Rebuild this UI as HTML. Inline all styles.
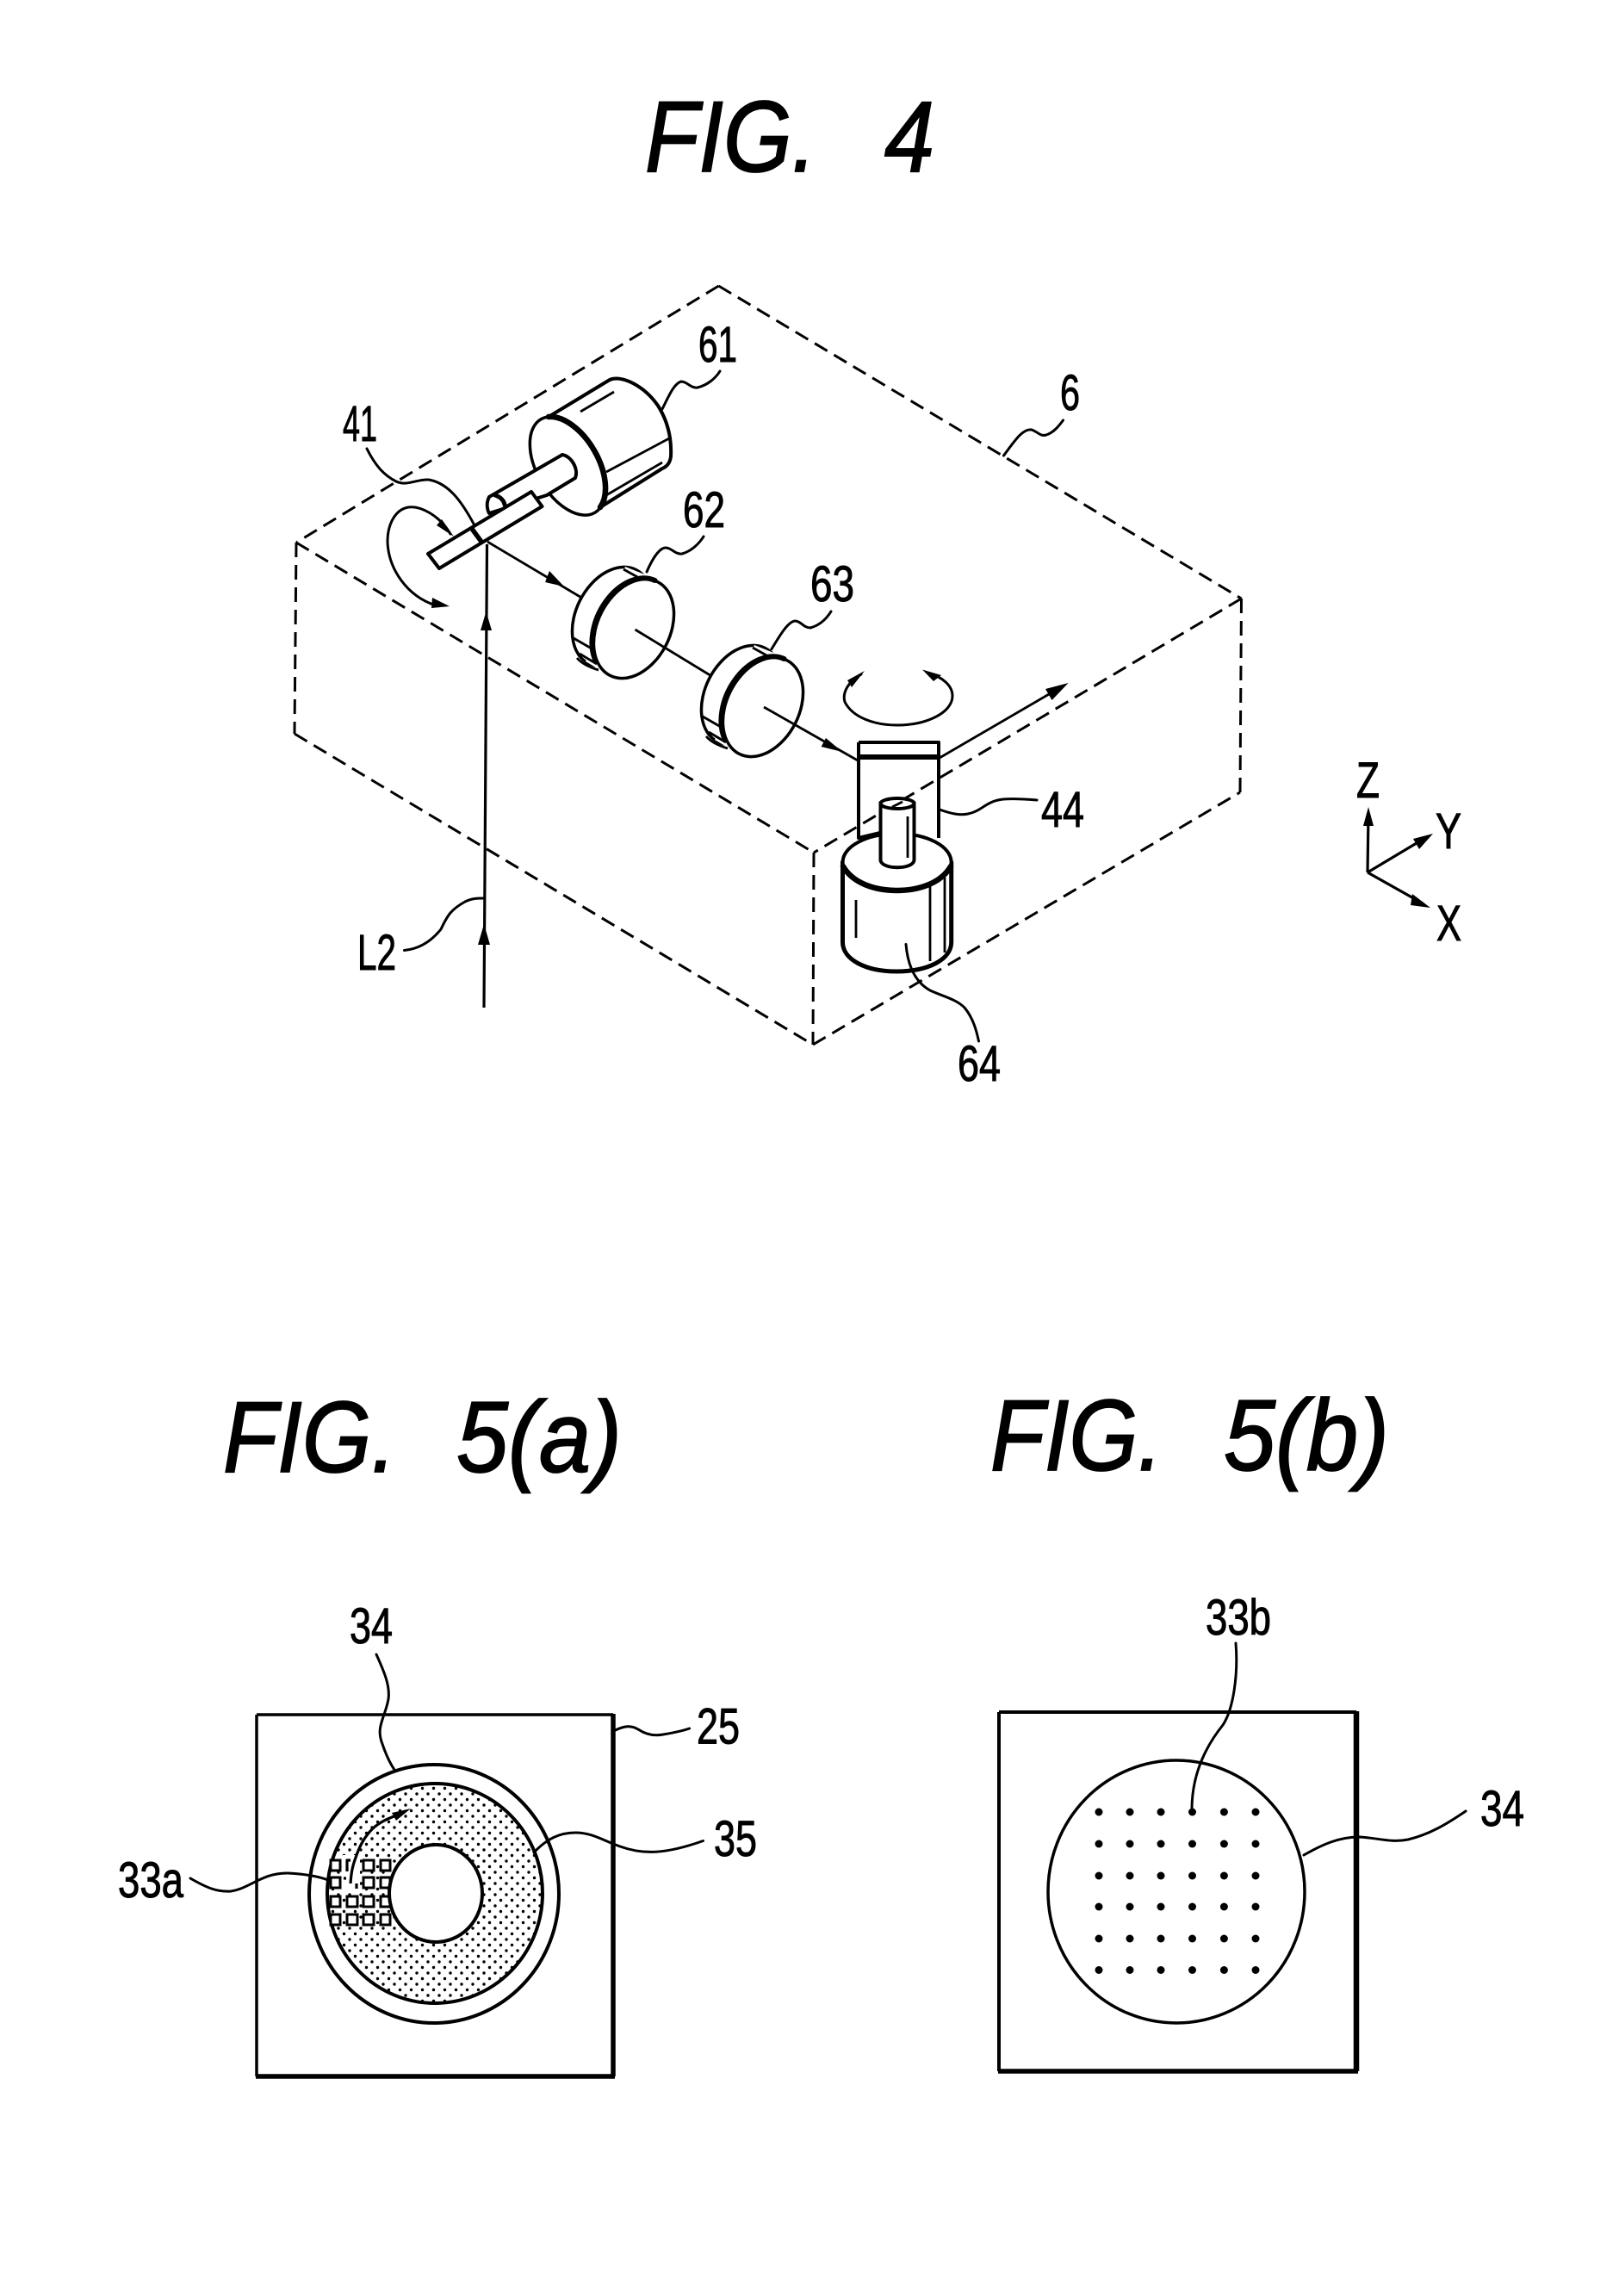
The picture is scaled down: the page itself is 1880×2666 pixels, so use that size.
<!DOCTYPE html>
<html>
<head>
<meta charset="utf-8">
<style>
html,body{margin:0;padding:0;background:#fff;}
svg{display:block;}
text{font-family:"Liberation Sans",sans-serif;fill:#000;}
.t{font-size:58px;stroke:#000;stroke-width:1;}
.h{font-size:117px;font-style:italic;stroke:#000;stroke-width:1.8;}
.l{fill:none;stroke:#000;stroke-width:3;stroke-linecap:round;stroke-linejoin:round;}
.m{fill:none;stroke:#000;stroke-width:3.2;stroke-linejoin:round;}
.w{fill:#fff;stroke:#000;stroke-width:4;stroke-linejoin:round;}
.k{fill:none;stroke:#000;stroke-width:6.5;stroke-linecap:round;}
.d{fill:none;stroke:#000;stroke-width:3;stroke-dasharray:17 9;}
</style>
</head>
<body>
<svg width="1880" height="2666" viewBox="0 0 1880 2666" xmlns="http://www.w3.org/2000/svg">
<defs>
<pattern id="st" width="13" height="13" patternUnits="userSpaceOnUse">
<circle cx="3" cy="3" r="1.7" fill="#000"/>
<circle cx="9.5" cy="9.5" r="1.7" fill="#000"/>
</pattern>
</defs>
<rect width="1880" height="2666" fill="#fff"/>

<!-- Titles -->
<text class="h" x="749" y="199" textLength="199" lengthAdjust="spacingAndGlyphs">FIG.</text>
<text class="h" x="1027" y="199" textLength="58" lengthAdjust="spacingAndGlyphs">4</text>
<text class="h" x="259" y="1709" textLength="201" lengthAdjust="spacingAndGlyphs">FIG.</text>
<text class="h" x="530" y="1709" textLength="192" lengthAdjust="spacingAndGlyphs">5(a)</text>
<text class="h" x="1150" y="1707" textLength="200" lengthAdjust="spacingAndGlyphs">FIG.</text>
<text class="h" x="1421" y="1707" textLength="192" lengthAdjust="spacingAndGlyphs">5(b)</text>

<!-- Dashed box -->
<path class="d" d="M834.5 332 L344 630"/>
<path class="d" d="M834.5 332 L1441.5 695"/>
<path class="d" d="M344 630 L945 990"/>
<path class="d" d="M1441.5 695 L945 990"/>
<path class="d" d="M344 630 L342 852"/>
<path class="d" d="M342 852 L944 1213"/>
<path class="d" d="M944 1213 L1440 920"/>
<path class="d" d="M1440 920 L1441.5 695"/>
<path class="d" d="M945 990 L944 1213"/>

<!-- Leader 6 -->
<path class="l" d="M1165.5 529 C1178 512 1188 497 1198 499 C1206 502 1208 507 1215 505 C1224 502 1230 494 1234.5 488"/>
<text class="t" x="1231" y="476" textLength="23" lengthAdjust="spacingAndGlyphs">6</text>

<!-- Motor 61 -->
<path class="w" d="M637 484 L708 441 C722 435 748 448 764 471 C776 490 780 510 779 530 C778 538 774 542 769 544 L697 589 Z"/>
<ellipse class="w" cx="659.5" cy="541" rx="36" ry="62.6" transform="rotate(-30 659.5 541)" style="stroke-width:3.5"/>
<path class="k" d="M637 484 A36 62.6 -30 0 1 697 589"/>
<path class="m" d="M674 478 L713 455 M704 548 L779 508 M704 575 L769 537" style="stroke-width:2.8"/>
<!-- shaft -->
<path class="w" d="M568 577 L653 528 C664 530 672 545 668 555 L635 575 L568 596 C565 590 565 583 568 577 Z"/>
<path class="k" style="stroke-width:5" d="M575 575 C581 577 585 581 586 586"/>
<!-- mirror 41 -->
<path class="w" d="M497 643 L617 571 L629.5 588 L510 660 Z"/>
<path class="k" style="stroke-width:5.5" d="M548 614 L559 629"/>
<path class="l" d="M426 521 C436 541 446 552 460 559 C473 565 484 556 498 557 C520 561 535 580 551 610"/>
<text class="t" x="398" y="512" textLength="40" lengthAdjust="spacingAndGlyphs">41</text>
<path class="l" d="M769 475 C777 459 783 445 791 443 C798 443 802 451 810 450 C822 447 831 439 836 431"/>
<text class="t" x="811" y="420" textLength="45" lengthAdjust="spacingAndGlyphs">61</text>

<!-- rotation arrow at 41 -->
<path class="l" d="M523 620 C510 598 488 587 474 589 C458 592 450 610 450 629 C451 660 472 692 506 703"/>
<polygon points="527,623 513,603 507,610" fill="#000"/>
<polygon points="522,704 502,694 501,706" fill="#000"/>

<!-- Beam -->
<path class="m" d="M562 1170 L565.5 632"/>
<polygon points="564.5,710 558,732 571,732" fill="#000"/>
<polygon points="562,1073 555,1097 569,1097" fill="#000"/>
<path class="m" style="stroke-width:2.8" d="M566 629 L677 695"/>
<polygon points="655,681 638,663 633,676" fill="#000"/>

<!-- Lens 62 -->
<g id="lens">
<ellipse class="w" cx="711" cy="716" rx="42" ry="61" transform="rotate(27 711 716)" style="stroke-width:3.5"/>
<path d="M726 658 L751 668 L697 778 L680 768 Z" fill="#fff"/>
<ellipse class="w" cx="736" cy="730" rx="42" ry="61" transform="rotate(27 736 730)" style="stroke-width:3.5"/>
<path class="k" style="stroke-width:6" d="M692 768 A42 61 27 0 1 760.5 674"/>
<path class="m" style="stroke-width:2.8" d="M724 661 L742 671 M666 741 L688 753.6 M673 759 L693 771 M670 764 C675 770 685 775 695 778"/>
</g>
<use href="#lens" transform="translate(150 91)"/>
<path class="m" style="stroke-width:2.8" d="M737.5 731 L824.5 784"/>
<path class="m" style="stroke-width:2.8" d="M887 821 L996 883"/>
<polygon points="978,873 959,857 953.6,867" fill="#000"/>

<path class="l" d="M751 664 C758 648 766 636 773 636 C780 636 784 644 792 643 C803 640 812 631 817 623"/>
<text class="t" x="793" y="612" textLength="49" lengthAdjust="spacingAndGlyphs">62</text>
<path class="l" d="M896 753.6 C906 737 915 722 923 721 C930 721 933 729 941 729 C952 726 960 718 965 710"/>
<text class="t" x="941" y="698" textLength="51" lengthAdjust="spacingAndGlyphs">63</text>

<!-- Rotation arrows at 44 -->
<path class="l" d="M1000 783 C984 792 978 805 981 815 C990 833 1015 842 1042 842 C1075 842 1106 828 1106 808 C1106 796 1094 786 1079 782"/>
<polygon points="1004,779 984,790 989,798" fill="#000"/>
<polygon points="1071,777.5 1093,784 1084,791" fill="#000"/>

<!-- Mirror 44 -->
<path class="m" style="stroke-width:4" d="M997 862 L1090 862 L1090 973 M997 862 L997 973 L1030 965"/>
<path class="k" style="stroke-width:6;stroke-linecap:butt" d="M996 879 L1091 879"/>
<path class="m" style="stroke-width:2.8" d="M1091 880 L1225 802"/>
<polygon points="1240.6,793 1214,800 1221.5,813" fill="#000"/>
<path class="l" d="M1091 940 C1105 945 1115 947 1124 945 C1140 942 1145 930 1165 928 C1178 927 1192 928 1204 929"/>
<text class="t" x="1209" y="960" textLength="50" lengthAdjust="spacingAndGlyphs">44</text>

<!-- Motor 64 -->
<path class="w" d="M978.5 1001 L978.5 1094 C978.5 1114 1005 1128 1041 1128 C1078 1128 1104.7 1114 1104.7 1094 L1104.7 1001 Z" style="stroke-width:5"/>
<ellipse class="w" cx="1041.6" cy="1001" rx="63" ry="33"/>
<path class="k" style="stroke-width:6.5" d="M979 1006 C990 1025 1015 1034 1041 1034 C1068 1034 1093 1025 1104 1006"/>
<path class="m" style="stroke-width:2.8" d="M1080 1029 L1080 1116 M1097 1019 L1097 1106 M994 1045 L994 1089"/>
<!-- shaft -->
<path class="w" d="M1022.5 932 L1022.5 999 C1024 1010 1060 1010 1061.5 999 L1061.5 932 Z"/>
<ellipse class="w" cx="1042" cy="933" rx="19.5" ry="6"/>
<path class="m" style="stroke-width:2.8" d="M1054 948 L1054 996 M1036 937 L1048 931"/>
<path class="l" d="M1052 1096.5 C1054 1120 1062 1140 1080 1150 C1095 1157 1110 1160 1120 1170 C1130 1182 1134 1197 1136.5 1209"/>
<text class="t" x="1112" y="1255" textLength="50" lengthAdjust="spacingAndGlyphs">64</text>

<!-- L2 -->
<path class="l" d="M469.5 1103.5 C485 1102 500 1094 512 1079 C520 1062 524 1056 540 1047 C548 1043 555 1043 561 1043"/>
<text class="t" x="415" y="1126" textLength="45" lengthAdjust="spacingAndGlyphs">L2</text>

<!-- Axes -->
<path class="m" style="stroke-width:3.2" d="M1588 1013 L1589 945 M1588 1013 L1655 973 M1588 1013 L1652 1049"/>
<polygon points="1589,937 1583,959 1595,959" fill="#000"/>
<polygon points="1664,968 1641,974 1648,986" fill="#000"/>
<polygon points="1661,1054 1640,1038 1638,1051" fill="#000"/>
<text class="t" x="1575" y="926" textLength="27" lengthAdjust="spacingAndGlyphs">Z</text>
<text class="t" x="1667" y="985" textLength="30" lengthAdjust="spacingAndGlyphs">Y</text>
<text class="t" x="1668" y="1092" textLength="29" lengthAdjust="spacingAndGlyphs">X</text>

<!-- FIG 5(a) -->
<path fill="none" stroke="#000" d="M298 1991 L712 1991" stroke-width="3.5"/>
<path fill="none" stroke="#000" d="M298 1991 L298 2411" stroke-width="3.5"/>
<path fill="none" stroke="#000" d="M712 1990 L712 2411" stroke-width="5.5"/>
<path fill="none" stroke="#000" d="M297 2411 L714 2411" stroke-width="5.5"/>
<ellipse cx="504" cy="2199" rx="145" ry="150" fill="#fff" stroke="#000" stroke-width="4"/>
<ellipse cx="505" cy="2198.5" rx="125" ry="127.5" fill="url(#st)" stroke="#000" stroke-width="4"/>
<g fill="#fff" stroke="#000" stroke-width="3">
<rect x="384" y="2160" width="11" height="12"/><rect x="422" y="2160" width="12" height="12"/><rect x="442" y="2160" width="11" height="12"/>
<rect x="384" y="2180" width="11" height="12"/><rect x="422" y="2180" width="12" height="12"/><rect x="442" y="2180" width="11" height="12"/>
<rect x="384" y="2202" width="11" height="12"/><rect x="403" y="2202" width="12" height="12"/><rect x="422" y="2202" width="12" height="12"/><rect x="442" y="2202" width="11" height="12"/>
<rect x="384" y="2223" width="11" height="12"/><rect x="403" y="2223" width="12" height="12"/><rect x="422" y="2223" width="12" height="12"/><rect x="442" y="2223" width="11" height="12"/>
</g>
<path d="M398 2154 L418 2154 L418 2198 L398 2198 Z" fill="#fff"/>
<path class="m" d="M403 2173 L403 2160 L407 2160 M399 2181 L402 2181 M414 2187 L414 2193"/>
<ellipse cx="506" cy="2198.5" rx="54" ry="56.5" fill="#fff" stroke="#000" stroke-width="4"/>
<path class="m" d="M407 2187 C408 2172 410 2165 413 2157 C418 2142 424 2132 433 2123 C442 2115 450 2112 460 2108"/>
<polygon points="477,2100 455,2105 460,2114" fill="#000"/>
<path class="l" d="M437 1921 C447 1943 453 1958 451 1973 C447 1995 436 2005 444 2025 C448 2037 452 2046 458 2055"/>
<text class="t" x="406" y="1908" textLength="50" lengthAdjust="spacingAndGlyphs">34</text>
<path class="l" d="M714.5 2009 C725 2004 733 2003 741 2008 C750 2014 760 2016 770 2014 C782 2012 792 2010 800.6 2007"/>
<text class="t" x="809" y="2024.5" textLength="50" lengthAdjust="spacingAndGlyphs">25</text>
<path class="l" d="M620 2151 C635 2135 650 2128 668 2128 C688 2128 700 2137 720 2144 C745 2153 770 2154 816.5 2137.5"/>
<text class="t" x="829" y="2155" textLength="50" lengthAdjust="spacingAndGlyphs">35</text>
<path class="l" d="M221 2181 C240 2192 252 2197 268 2196 C290 2193 305 2174 335 2175 C352 2176 368 2178 381 2183"/>
<text class="t" x="137" y="2203" textLength="76" lengthAdjust="spacingAndGlyphs">33a</text>

<!-- FIG 5(b) -->
<path fill="none" stroke="#000" d="M1160 1988 L1575 1988" stroke-width="4"/>
<path fill="none" stroke="#000" d="M1160 1988 L1160 2405" stroke-width="4"/>
<path fill="none" stroke="#000" d="M1575 1987 L1575 2405" stroke-width="6.5"/>
<path fill="none" stroke="#000" d="M1159 2405 L1577 2405" stroke-width="5.5"/>
<ellipse cx="1366" cy="2196.5" rx="149" ry="152.5" fill="#fff" stroke="#000" stroke-width="3.5"/>
<g fill="#000">
<circle cx="1276" cy="2104" r="4.5"/><circle cx="1312" cy="2104" r="4.5"/><circle cx="1348" cy="2104" r="4.5"/><circle cx="1384.5" cy="2104" r="4.5"/><circle cx="1421.4" cy="2104" r="4.5"/><circle cx="1458" cy="2104" r="4.5"/>
<circle cx="1276" cy="2141" r="4.5"/><circle cx="1312" cy="2141" r="4.5"/><circle cx="1348" cy="2141" r="4.5"/><circle cx="1384.5" cy="2141" r="4.5"/><circle cx="1421.4" cy="2141" r="4.5"/><circle cx="1458" cy="2141" r="4.5"/>
<circle cx="1276" cy="2178" r="4.5"/><circle cx="1312" cy="2178" r="4.5"/><circle cx="1348" cy="2178" r="4.5"/><circle cx="1384.5" cy="2178" r="4.5"/><circle cx="1421.4" cy="2178" r="4.5"/><circle cx="1458" cy="2178" r="4.5"/>
<circle cx="1276" cy="2214" r="4.5"/><circle cx="1312" cy="2214" r="4.5"/><circle cx="1348" cy="2214" r="4.5"/><circle cx="1384.5" cy="2214" r="4.5"/><circle cx="1421.4" cy="2214" r="4.5"/><circle cx="1458" cy="2214" r="4.5"/>
<circle cx="1276" cy="2251" r="4.5"/><circle cx="1312" cy="2251" r="4.5"/><circle cx="1348" cy="2251" r="4.5"/><circle cx="1384.5" cy="2251" r="4.5"/><circle cx="1421.4" cy="2251" r="4.5"/><circle cx="1458" cy="2251" r="4.5"/>
<circle cx="1276" cy="2287.5" r="4.5"/><circle cx="1312" cy="2287.5" r="4.5"/><circle cx="1348" cy="2287.5" r="4.5"/><circle cx="1384.5" cy="2287.5" r="4.5"/><circle cx="1421.4" cy="2287.5" r="4.5"/><circle cx="1458" cy="2287.5" r="4.5"/>
</g>
<path class="l" d="M1435 1908 C1438 1945 1432 1985 1420 2003 C1400 2028 1384 2060 1384 2101"/>
<text class="t" x="1400" y="1898" textLength="76" lengthAdjust="spacingAndGlyphs">33b</text>
<path class="l" d="M1514 2154 C1535 2142 1555 2133 1578 2133 C1600 2134 1615 2140 1635 2136 C1660 2130 1680 2118 1702 2103"/>
<text class="t" x="1719" y="2120" textLength="51" lengthAdjust="spacingAndGlyphs">34</text>
</svg>
</body>
</html>
